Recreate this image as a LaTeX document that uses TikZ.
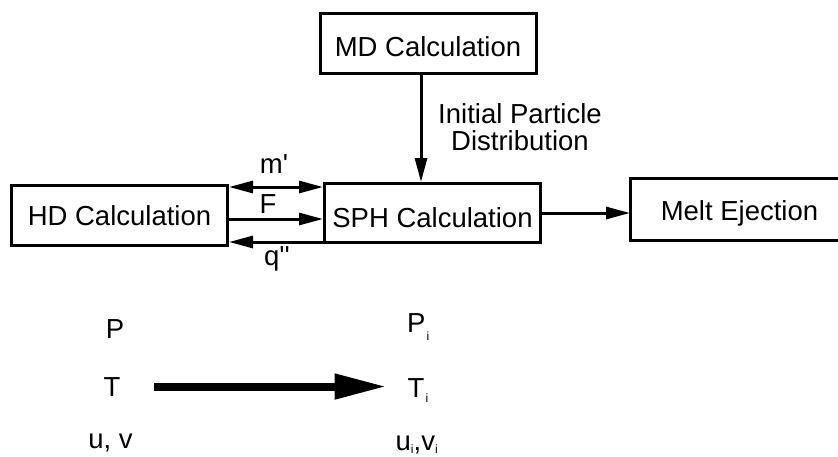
\documentclass[tikz,border=0pt]{standalone}
\usepackage{fontspec}
\setmainfont{Liberation Sans}
\usetikzlibrary{arrows.meta}
\newcommand\mysub[1]{\raisebox{-#1pt}{\fontsize{12pt}{12pt}\selectfont i}}
\begin{document}
\begin{tikzpicture}[x=1pt,y=-1pt,
  every node/.style={font=\fontsize{27.5pt}{27pt}\selectfont, inner sep=0pt, text=black},
  calcbox/.style={draw, line width=3pt, minimum width=216pt, minimum height=60pt, text depth=0pt},
  openbox/.style={line width=3pt, minimum width=216pt, minimum height=59pt, text depth=0pt},
  thinarrow/.style={line width=3pt, -{Triangle[length=24pt,width=12pt]}},
  thinboth/.style={line width=3pt, {Triangle[length=24pt,width=12pt]}-{Triangle[length=24pt,width=12pt]}},
  thinback/.style={line width=3pt, {Triangle[length=24pt,width=12pt]}-},
  bigarrow/.style={line width=8pt, -{Triangle[length=52pt,width=24pt]}},
  lbl/.style={anchor=base}]
\useasboundingbox (0,0) rectangle (838,456);
\clip (0,0) rectangle (838,456);

% boxes
\node[calcbox, text height=19pt] (hd) at (119.5,215.5) {HD Calculation};
\node[calcbox, minimum height=59pt, text height=28pt] (sph) at (432.5,213) {SPH Calculation};
\node[calcbox, text height=25pt] (md) at (428,43.5) {MD Calculation};
\node[openbox, text height=22pt] (melt) at (739.5,209) {Melt Ejection};
\draw[line width=3pt] ([xshift=20pt]melt.north east) -- (melt.north west) -- (melt.south west) -- ([xshift=20pt]melt.south east);

% helper coordinates
\coordinate (ym) at (0,187);
\coordinate (yf) at (0,219);
\coordinate (yq) at (0,242);
\coordinate (xa) at (421,0);

% connectors between HD and SPH
\draw[thinboth] (hd.east |- ym) -- (sph.west |- ym);
\draw[thinarrow] (hd.east |- yf) -- (sph.west |- yf);
\draw[thinback] (hd.east |- yq) -- (sph.west |- yq);

\node[lbl] (mlab) at (274,173) {m\textquotesingle};
\node[lbl] (flab) at (268,213) {F};
\node[lbl] (qlab) at (277,265) {q\textquotesingle\textquotesingle};

% MD to SPH
\draw[thinarrow] (md.south -| xa) -- (sph.north -| xa);
\node[anchor=north, align=center] (ipd) at (520,103.3) {Initial Particle\\Distribution};

% SPH to Melt
\draw[thinarrow] (sph.east) -- (sph.east -| melt.west);

% bottom part
\node[lbl] (p) at (115,338) {P};
\node[lbl] (t) at (112,396) {T};
\node[lbl] (uv) at (110.5,448) {u, v};
\node[anchor=base west] (pi) at (407,332) {P\kern1pt\mysub{8}};
\node[anchor=base west] (ti) at (407.5,397) {T\kern1pt\mysub{5}};
\node[anchor=base west] (uivi) at (395.5,450) {u\mysub{3},v\mysub{3}};

\draw[bigarrow, shorten <=33.5pt, shorten >=21pt] (t.east) -- (t.east -| ti.west);
\end{tikzpicture}
\end{document}
